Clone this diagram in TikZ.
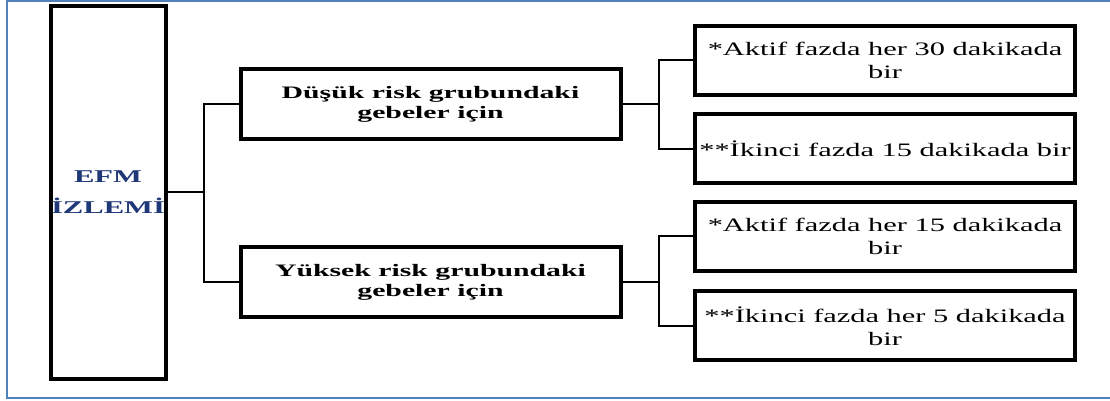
\documentclass[tikz,border=0pt]{standalone}
\usepackage{fontspec}
\setmainfont{Liberation Serif}
\usepackage{graphicx}
\usetikzlibrary{positioning}

\definecolor{frameblue}{RGB}{79,129,189}
\definecolor{efmblue}{RGB}{31,56,120}
\newcommand{\widetxt}[1]{\scalebox{1.6}[1]{#1}}
\newcommand{\widebf}[1]{\scalebox{1.7}[1]{\bfseries #1}}

\begin{document}
\begin{tikzpicture}[x=1pt, y=-1pt, on grid,
    box/.style={draw, line width=4pt, inner sep=0pt, align=center},
    riskbox/.style={box, minimum width=380pt, minimum height=70pt, font=\fontsize{17.5}{20}\selectfont},
    freqbox/.style={box, minimum width=380pt, minimum height=69pt, font=\fontsize{19}{23}\selectfont},
    link/.style={line width=1.8pt}]
    \useasboundingbox (0,0) rectangle (1110,401);
    % outer frame
    \draw[frameblue, line width=2pt] (1110,1.5) -| (7.3,398) -- (1110,398);

    \node[box, minimum width=115pt, minimum height=372.5pt, text=efmblue,
          font=\fontsize{18}{31}\selectfont] (efm) at (108,192.3)
          {\widebf{EFM}\\\widebf{İZLEMİ}};

    \node[riskbox] (low) [above right=88pt and 322.5pt of efm]
          {\widebf{Düşük risk grubundaki}\\\widebf{gebeler için}};
    \node[riskbox] (high) [below right=90pt and 322.5pt of efm]
          {\widebf{Yüksek risk grubundaki}\\\widebf{gebeler için}};

    \node[freqbox] (low1) [above right=44pt and 454.5pt of low]
          {\widetxt{*Aktif fazda her 30 dakikada}\\\widetxt{bir}};
    \node[freqbox] (low2) [below right=44.5pt and 454.5pt of low]
          {\widetxt{**İkinci fazda 15 dakikada bir}};
    \node[freqbox] (high1) [above right=46pt and 454.5pt of high]
          {\widetxt{*Aktif fazda her 15 dakikada}\\\widetxt{bir}};
    \node[freqbox] (high2) [below right=43.5pt and 454.5pt of high]
          {\widetxt{**İkinci fazda her 5 dakikada}\\\widetxt{bir}};

    \draw[link] (efm.east) -- ++(36.5,0) coordinate (j0) |- (low.west)
                (j0) |- (high.west);
    \draw[link] (low.east) -- ++(36.5,0) coordinate (j1) |- (low1.west)
                (j1) |- (low2.west);
    \draw[link] (high.east) -- ++(36.5,0) coordinate (j2) |- (high1.west)
                (j2) |- (high2.west);
\end{tikzpicture}
\end{document}
